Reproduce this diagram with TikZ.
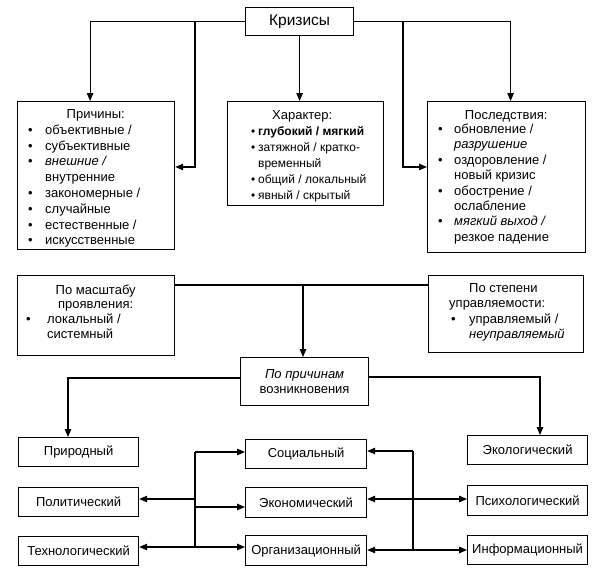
\documentclass[tikz,border=0pt]{standalone}
\usepackage{fontspec}
\setmainfont{Liberation Sans}
\usetikzlibrary{arrows.meta}
\newcommand\mybul[3]{\hspace*{#1pt}\makebox[#2pt][l]{\textbullet}{#3}\par}
\newcommand\mycont[2]{\hspace*{#1pt}{#2}\par}
\newcommand\mytitle[2]{\makebox[\linewidth][c]{\hspace*{#1pt}#2}\par}
\tikzset{
  box/.style={draw, line width=1.2pt, inner sep=0pt, anchor=north west},
  small/.style={box, minimum width=120pt, minimum height=29pt, font=\fontsize{13}{15}\selectfont},
  conn/.style={line width=1.1pt},
  arr/.style={conn, -{Triangle[length=8pt,width=6.5pt]}},
  blk/.style={inner sep=0pt, anchor=base west},
}
\begin{document}
\begin{tikzpicture}[x=1pt,y=-1pt]
\fill[white] (0,0) rectangle (596,584);
\useasboundingbox (0,0) rectangle (596,584);

% top
\node[box, minimum width=108pt, minimum height=28pt, font=\fontsize{15.5}{18}\selectfont] (kriz) at (245,7) {Кризисы};

\node[box, minimum width=157pt, minimum height=148pt] (cause) at (17,101) {};
\node[blk] (causet) at (17,118.5) {\parbox[t]{157pt}{\fontsize{13}{15.8}\selectfont
\mytitle{0}{Причины:}
\mybul{11}{17}{объективные /}
\mybul{11}{17}{субъективные}
\mybul{11}{17}{\itshape внешние /}
\mycont{28}{внутренние}
\mybul{11}{17}{закономерные /}
\mybul{11}{17}{случайные}
\mybul{11}{17}{естественные /}
\mybul{11}{17}{искусственные}}};

\node[box, minimum width=156pt, minimum height=104pt] (char) at (227,101) {};
\node[blk] (chart) at (227,119.5) {\parbox[t]{156pt}{\fontsize{12}{16}\selectfont
\mytitle{-6}{\fontsize{13}{16}\selectfont Характер:}
\mybul{24}{7}{\bfseries глубокий / мягкий}
\mybul{24}{7}{затяжной / кратко-}
\mycont{31}{временный}
\mybul{24}{7}{общий / локальный}
\mybul{24}{7}{явный / скрытый}}};

\node[box, minimum width=158pt, minimum height=151pt] (cons) at (427,101) {};
\node[blk] (const) at (427,119.6) {\parbox[t]{158pt}{\fontsize{13}{15.4}\selectfont
\mytitle{0}{Последствия:}\vspace{-1.6pt}
\mybul{11}{16}{обновление /}
\mycont{27}{\itshape разрушение}
\mybul{11}{16}{оздоровление /}
\mycont{27}{новый кризис}
\mybul{11}{16}{обострение /}
\mycont{27}{ослабление}
\mybul{11}{16}{\itshape мягкий выход /}
\mycont{27}{резкое падение}}};

% second row
\node[box, minimum width=157pt, minimum height=80pt] (scale) at (17,275) {};
\node[blk] (scalet) at (17,294.2) {\parbox[t]{157pt}{\fontsize{13}{14.6}\selectfont
\mytitle{0}{По масштабу}
\mytitle{0}{проявления:}
\mybul{9}{21}{локальный /}
\mycont{30}{системный}}};

\node[box, minimum width=155pt, minimum height=77pt] (ctrl) at (428,275) {};
\node[blk] (ctrlt) at (428,292.4) {\parbox[t]{155pt}{\fontsize{13}{15.5}\selectfont
\mycont{41}{По степени}
\mycont{21}{управляемости:}
\mybul{23}{18}{управляемый /}
\mycont{41}{\itshape неуправляемый}}};

\node[box, minimum width=128pt, minimum height=48pt, align=center, font=\fontsize{13}{15}\selectfont] (reason) at (240,357) {{\itshape По причинам}\\возникновения};

% bottom
\node[small] (nat) at (18,437) {Природный};
\node[small] (pol) at (18,487) {Политический};
\node[small] (tech) at (18,536) {Технологический};
\node[small, minimum width=121pt] (soc) at (245,439) {Социальный};
\node[small, minimum width=121pt, minimum height=30pt] (econ) at (245,487) {Экономический};
\node[small, minimum width=121pt, minimum height=30pt] (org) at (245,535) {Организационный};
\node[small] (ecol) at (467,435) {Экологический};
\node[small, minimum height=30pt] (psy) at (467,485) {Психологический};
\node[small] (info) at (467,535) {Информационный};

% connectors top
\coordinate (c1) at (195,167);
\coordinate (c2) at (403,167);
\draw[arr] (kriz.west) -| ([xshift=-6pt]cause.north);
\draw[arr] (kriz.west) -| (c1) -- (c1 -| cause.east);
\draw[arr] (kriz.south) -- (kriz.south |- char.north);
\draw[arr] (kriz.east) -| (c2) -- (c2 -| cons.west);
\draw[arr] (kriz.east) -| ([xshift=4pt]cons.north);

% second row connectors
\coordinate (c3) at (303,285);
\draw[conn] (scale.east |- c3) -- (ctrl.west |- c3);
\draw[arr] (c3) -- (c3 |- reason.north);
\coordinate (c4) at (68,378);
\coordinate (c5) at (540,377);
\draw[arr] (reason.west |- c4) -| (c4 |- nat.north);
\draw[arr] (reason.east |- c5) -| (c5 |- ecol.north);

% bottom buses
\coordinate (b1) at (195,452);
\coordinate (b2) at (195,499);
\coordinate (b3) at (195,507);
\coordinate (b4) at (195,547);
\draw[conn] (b1) -- (b4);
\draw[arr] (b1) -- (b1 -| soc.west);
\draw[arr] (b2) -- (b2 -| pol.east);
\draw[arr] (b3) -- (b3 -| econ.west);
\draw[arr] (b4) -- (b4 -| tech.east);
\draw[arr] (b4) -- (b4 -| org.west);

\coordinate (r1) at (413,451);
\coordinate (r2) at (413,499);
\coordinate (r3) at (413,550);
\draw[conn] (r1) -- (r3);
\draw[arr] (r1) -- (r1 -| soc.east);
\draw[arr] (r2) -- (r2 -| econ.east);
\draw[arr] (r2) -- (r2 -| psy.west);
\draw[arr] (r3) -- (r3 -| org.east);
\draw[arr] (r3) -- (r3 -| info.west);
\end{tikzpicture}
\end{document}
